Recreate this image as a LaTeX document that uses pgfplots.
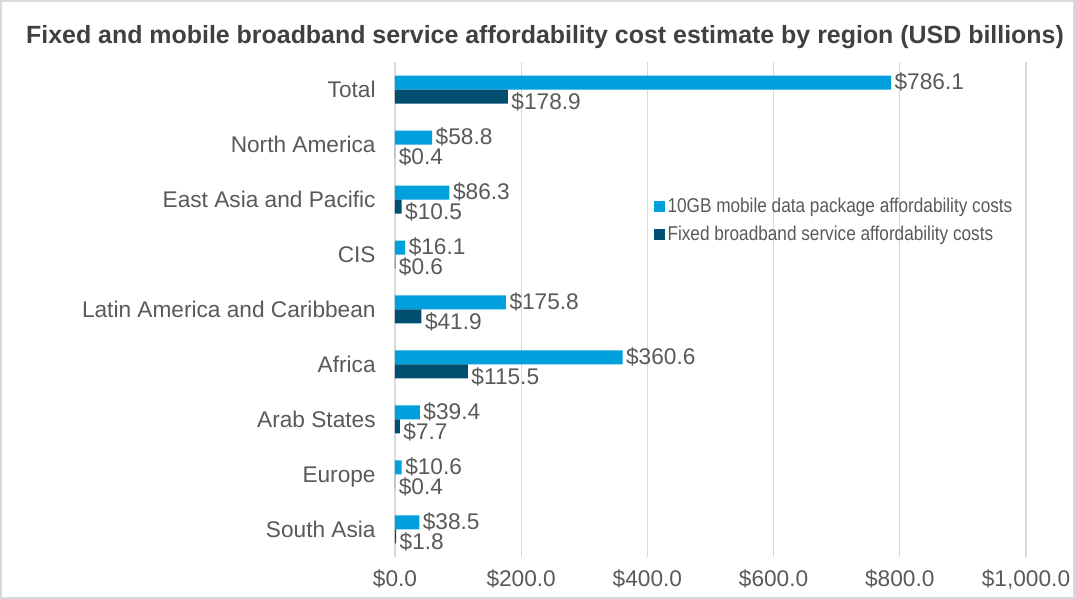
\documentclass[border=0pt]{standalone}
\usepackage{pgfplots}
\usepackage{pgfplotstable}
\pgfplotsset{compat=1.18}
\usepackage{fontspec}
\setmainfont{Liberation Sans}
\newfontfamily\legendfont[FakeStretch=0.86]{Liberation Sans}
\definecolor{mobileblue}{HTML}{00A0DC}
\definecolor{fixednavy}{HTML}{004F71}
\definecolor{txtgray}{HTML}{595959}
\definecolor{titlegray}{HTML}{404040}
\definecolor{gridgray}{HTML}{D9D9D9}

% regions from bottom (South Asia) to top (Total)
\pgfplotstableread{
idx mobile fixed
0   38.5   1.8
1   10.6   0.4
2   39.4   7.7
3   360.6  115.5
4   175.8  41.9
5   16.1   0.6
6   86.3   10.5
7   58.8   0.4
8   786.1  178.9
}\costs

\begin{document}
\begin{tikzpicture}
\useasboundingbox (-296.25pt,-31.5pt) rectangle (510pt,417.75pt);
\draw[gridgray, line width=0.8pt] (-295.5pt,-30.75pt) rectangle (509.25pt,417pt);
\node[font=\fontsize{18.7}{22}\selectfont\bfseries, text=titlegray] at (112.5pt,390pt)
  {Fixed and mobile broadband service affordability cost estimate by region (USD billions)};
\begin{axis}[
    at={(0,0)}, anchor=south west,
    scale only axis,
    width=473.25pt, height=371.25pt,
    xbar, bar width=10.5pt,
    xmin=0, xmax=1000,
    ymin=-0.5, ymax=8.5,
    xtick={0,200,...,1000},
    ytick={0,...,8},
    yticklabels={South Asia, Europe, Arab States, Africa, Latin America and Caribbean, CIS, East Asia and Pacific, North America, Total},
    /pgf/number format/assume math mode=true,
    xticklabel={\$\pgfmathprintnumber[fixed,fixed zerofill,precision=1,1000 sep={,}]{\tick}},
    tick label style={font=\fontsize{17}{20}\selectfont, text=txtgray},
    xticklabel style={yshift=-6pt},
    yticklabel style={xshift=-11pt, yshift=-1.5pt, text height=12.5pt, text depth=3.5pt},
    major tick length=0pt,
    axis line style={draw=none},
    xmajorgrids, grid style={gridgray, line width=0.8pt},
    point meta=x,
    nodes near coords={\$\pgfmathprintnumber[fixed,fixed zerofill,precision=1]{\pgfplotspointmeta}},
    every node near coord/.append style={font=\fontsize{17}{20}\selectfont, text=txtgray, anchor=west, inner sep=2.5pt},
    legend style={at={(axis cs:404,5.62)}, anchor=west, draw=none, fill=none,
        font=\legendfont\fontsize{15}{18}\selectfont, text=txtgray, row sep=4.5pt},
    legend cell align=left,
    legend image code/.code={\fill[#1] (0pt,-4pt) rectangle (8pt,4pt);},
]
\addplot[fill=mobileblue, draw=none, bar shift=5.25pt,
    every node near coord/.append style={yshift=0.5pt}] table[x=mobile, y=idx] {\costs};
\addplot[fill=fixednavy, draw=none, bar shift=-5.25pt,
    every node near coord/.append style={yshift=-4pt}] table[x=fixed, y=idx] {\costs};
\legend{10GB mobile data package affordability costs, Fixed broadband service affordability costs}
\end{axis}
\end{tikzpicture}
\end{document}
